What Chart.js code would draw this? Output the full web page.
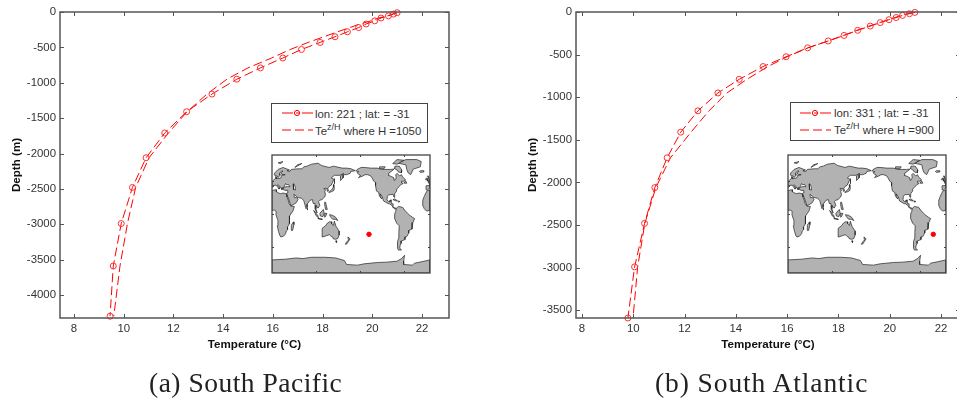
<!DOCTYPE html>
<html><head><meta charset="utf-8">
<script src="https://cdn.jsdelivr.net/npm/chart.js@4"></script>
<style>
html,body{margin:0;padding:0;background:#fff;width:957px;height:400px;overflow:hidden}
#all{position:absolute;left:0;top:0;width:957px;height:400px;overflow:hidden;filter:blur(.4px)}
canvas{position:absolute;display:block}
.lg{position:absolute;background:#fff;border:1px solid #444;box-sizing:border-box;font:11.4px "Liberation Sans",sans-serif;color:#333}
.lg svg{position:absolute;left:0;top:0}
.lg span{position:absolute;white-space:nowrap;line-height:14px}
.lg sup{font-size:9px;line-height:0;vertical-align:5px}
.cap{position:absolute;font:27.5px "Liberation Serif",serif;color:#222;white-space:nowrap;line-height:30px}
</style></head><body><div id="all">
<canvas id="c1" width="478" height="360" style="left:0;top:0"></canvas>
<canvas id="c2" width="460" height="360" style="left:500px;top:0"></canvas>

<div class="lg" style="left:271px;top:103px;width:157px;height:40px">
<svg width="157" height="40"><line x1="10" y1="9" x2="41" y2="9" stroke="#f00" stroke-dasharray="11 3 3 3 11"/><circle cx="25" cy="9" r="2.6" fill="none" stroke="#f00"/><line x1="10" y1="26" x2="41" y2="26" stroke="#f00" stroke-dasharray="9 4"/></svg>
<span style="left:43px;top:3px">lon: 221 ; lat: = -31</span><span style="left:43px;top:20px">Te<sup>z/H</sup> where H =1050</span></div>
<div class="lg" style="left:790px;top:102px;width:150px;height:39px">
<svg width="150" height="39"><line x1="9" y1="10" x2="40" y2="10" stroke="#f00" stroke-dasharray="11 3 3 3 11"/><circle cx="24" cy="10" r="2.6" fill="none" stroke="#f00"/><line x1="9" y1="27" x2="40" y2="27" stroke="#f00" stroke-dasharray="9 4"/></svg>
<span style="left:43px;top:3px">lon: 331 ; lat: = -31</span><span style="left:43px;top:20px">Te<sup>z/H</sup> where H =900</span></div>

<canvas id="m1" width="162" height="122" style="left:270px;top:153px"></canvas>
<canvas id="m2" width="162" height="122" style="left:786px;top:153px"></canvas>

<div class="cap" style="left:149px;top:368px;letter-spacing:.5px">(a) South Pacific</div>
<div class="cap" style="left:655px;top:368px;letter-spacing:.9px">(b) South Atlantic</div>
</div>
<script>
// ---- data ----
const tempTicks=[8,10,12,14,16,18,20,22];
const depthTicksA=[0,-500,-1000,-1500,-2000,-2500,-3000,-3500,-4000];
const depthTicksB=[0,-500,-1000,-1500,-2000,-2500,-3000,-3500];

const depthA=[-10,-30,-55,-85,-125,-170,-220,-280,-350,-430,-530,-650,-790,-950,-1160,-1410,-1710,-2060,-2480,-2990,-3590,-4300];
const obsA=[21,20.85,20.65,20.35,20.1,19.75,19.45,19.0,18.5,17.9,17.15,16.4,15.5,14.55,13.55,12.53,11.65,10.9,10.35,9.9,9.58,9.45];
const fitA=[20.95,20.8,20.6,20.25,19.95,19.5,19.1,18.6,18.05,17.42,16.7,15.95,15.0,14.15,13.35,12.55,11.8,11.02,10.48,10.15,9.85,9.6];

const depthB=[-5,-20,-40,-65,-90,-125,-165,-215,-275,-340,-420,-525,-640,-790,-950,-1160,-1410,-1710,-2060,-2480,-2990,-3590];
const obsB=[20.98,20.77,20.5,20.25,19.97,19.63,19.24,18.75,18.22,17.6,16.8,15.96,15.06,14.13,13.3,12.52,11.85,11.32,10.84,10.44,10.05,9.79];
const fitB=[20.9,20.7,20.45,20.2,19.95,19.6,19.2,18.72,18.2,17.6,16.82,16.0,15.25,14.43,13.65,12.95,12.25,11.45,10.88,10.45,10.17,9.99];

const mapLonTicks=[100,200,300];
const mapLatTicks=[-50,0,50];
const stationA=[221,-31];
const stationB=[331,-31];

const eurasiaAfrica=[[0,49.5],[4,52],[8,54],[8,57],[11,56],[10,54],[14,54],[20,55],[22,59],[30,60],[23,60],[21,63],[25,65.5],[22,65.7],[17,62],[18,59],[14,55.5],[12,58],[8,58],[5,60],[6,62.5],[14,68],[25,71],[40,67],[34,66],[40,64.5],[44,68],[60,69],[68,69],[73,72],[80,73],[90,76],[105,77.5],[113,74],[130,71],[140,73],[160,70],[170,70],[180,69],[190,66],[180,65],[178,62],[170,60],[163,60],[162,55],[156,51],[156,58],[163,62],[155,59],[142,59],[135,55],[141,53],[135,44],[130,42],[127,39],[129,35.5],[126,34.5],[125,39],[121,39],[118,38.5],[122,37],[120,34],[122,30],[120,26],[114,22],[109,21],[106,19],[109,13],[105,9],[100,13],[100,8],[103,1.5],[101,3],[98,8],[98,16],[94,16],[92,22],[87,21],[80,15],[80,10],[77.5,8],[73,19],[72,21],[67,24],[57,25.5],[56,27],[50,30],[48,30],[51,25],[56,25],[59.5,22.5],[55,17],[45,13],[43,13],[39,21],[35,28],[32.5,30],[34,26],[37,21],[39,16],[43,12],[51,11.5],[48,5],[40,-3],[39,-8],[40.5,-15],[35,-20],[35.5,-24],[32.5,-26],[31,-30],[26,-34],[20,-35],[18,-33],[15,-27],[12,-18],[13.5,-10],[9,-1],[9.5,4],[5,6],[0,5.5],[0,36],[10,37],[10,34],[15,32],[20,31],[25,32],[32,31],[35,32],[36,36],[30,36],[27,37],[26,40],[29,41],[35,42],[41,41.5],[38,45],[33,45],[31,46.5],[28,42],[26,40.5],[23,40],[23,37],[20,40],[14,45],[12.5,44],[18,40],[16,38],[12,42],[9,44],[4,43.5],[3,42],[0,40]];
const caspian=[[50,37],[54,37],[53,41],[51,45],[48,46],[48,42]];
const westAfrica=[[360,5.5],[352,4.5],[347,8],[343,14],[343.5,21],[347,27],[350.5,32],[354,35.8],[360,36]];
const iberia=[[360,40],[354,36.5],[351,37],[351,43],[358.5,43.5],[359,46],[355.5,48],[360,49.5]];
const britain=[[355,50],[360,51],[358,54],[356.5,58],[354,58],[357,55],[355,53]];
const ireland=[[350,52],[354,52],[354,55],[351,54.5]];
const iceland=[[336,65],[338,63.5],[345,64],[346,66],[338,66]];
const northAmerica=[[192,65.5],[198,64.5],[194,63],[198,60],[202,58.5],[197,55.5],[207,58],[212,60],[218,60],[225,58],[228,55],[232,50],[236,48],[236,43],[238,35],[243,33],[245,27],[250,23],[246,31],[251,27],[254,20],[264,16],[268,15.5],[273,13],[277,9],[280.5,7.5],[283,8.5],[280,9.5],[277,10],[276,15.5],[272,16],[272,21.5],[269,21],[269,18.5],[265,19],[262,22],[263,27],[266,29.5],[270,29.5],[276,30],[278,25.5],[280,27],[279,31],[284,35],[284,38],[290,42],[293,44.5],[296,45.5],[299,47],[295,47.5],[295,50],[300,50],[304,52.5],[298,56],[295,60],[291,58],[285,62],[282,60],[283,55],[280,51.5],[278,55],[273,57],[265,59],[266,62.5],[272,65],[278,68.5],[270,68],[262,68],[250,68],[240,70],[225,70],[210,71],[203,71],[194,68]];
const baffin=[[280,73],[290,73],[296,67],[295,63],[288,64],[285,67],[278,70]];
const victoria=[[245,72],[258,72],[255,69],[245,69]];
const ellesmere=[[275,77],[285,83],[300,82],[285,76]];
const newfoundland=[[301,47],[307,47],[304,51]];
const greenland=[[288,77.5],[305,83],[330,83],[340,80],[338,72],[322,68.5],[316,60],[310,63],[307,68],[305,75]];
const southAmerica=[[283,8.5],[288,11.5],[292,11],[298,10],[302,6],[309,1],[312,-1],[320,-5],[325,-7],[321,-13],[319,-18],[319,-23],[312,-25],[311.5,-29],[307,-34.5],[303,-35],[303,-39],[295,-41],[294,-45],[292,-48],[291,-52],[295,-55],[288,-55],[286,-52],[286,-42],[288.5,-37],[289,-28],[290,-18],[284,-14],[279,-6],[279,-3],[280,0],[282,4]];
const australia=[[114,-22],[122,-18],[126,-14],[131,-12],[136,-12],[136,-15],[140,-17.5],[142,-11],[146,-19],[153,-26],[153,-32],[150,-37.5],[145,-38.5],[140,-38],[138,-35],[135,-34.5],[131,-31.5],[124,-33],[116,-35],[115,-31],[114,-26]];
const tasmania=[[145,-41],[148,-41],[147.5,-43.5],[146,-43.5]];
const nzNorth=[[173,-35],[178,-38],[175,-41],[174,-39]];
const nzSouth=[[172,-41],[174,-42],[170,-46],[167,-46]];
const newGuinea=[[131,-1],[138,-2],[145,-5],[150,-10],[144,-8],[138,-8],[133,-4]];
const borneo=[[109,1],[117,7],[119,1],[116,-4],[110,-3]];
const sumatra=[[95,5.5],[104,-2],[106,-6],[101,-3]];
const java=[[105,-6.5],[114,-7.5],[114,-8.5],[106,-7.5]];
const sulawesi=[[120,1],[125,1],[122,-4],[120,-5]];
const philippines=[[120,18],[122,18],[124,12],[126,7],[122,7],[120,14]];
const japan=[[130,33],[136,34],[141,36],[142,40],[141,45],[140,41],[136,37],[131,34]];
const sakhalin=[[142,46],[143,54],[142,54]];
const sriLanka=[[80,9],[82,7],[80.5,6]];
const madagascar=[[49,-12],[50,-16],[47,-25],[44,-25],[44,-17]];
const cuba=[[275.5,22],[280,23],[286,20],[282,20]];
const hispaniola=[[288,20],[291.5,19],[288,18]];
const svalbard=[[14,78],[25,80],[20,77]];
const novayaZemlya=[[52,71],[68,77],[58,75]];
const antarctica=[[0,-70],[30,-69],[55,-67],[70,-68],[90,-66],[120,-66],[145,-67],[165,-71],[170,-77],[195,-78],[210,-76],[240,-74],[260,-73.5],[285,-72],[295,-68],[302,-63],[300,-72],[300,-77],[320,-78],[325,-75],[340,-73],[360,-70],[360,-90],[0,-90]];
const lands=[eurasiaAfrica,westAfrica,iberia,britain,ireland,iceland,northAmerica,baffin,victoria,ellesmere,newfoundland,greenland,southAmerica,australia,tasmania,nzNorth,nzSouth,newGuinea,borneo,sumatra,java,sulawesi,philippines,japan,sakhalin,sriLanka,madagascar,cuba,hispaniola,svalbard,novayaZemlya,antarctica];

// ---- helpers ----
const frame={id:'frame',afterDatasetsDraw(ch){
  const f=ch.options.plugins.frame,a=ch.chartArea,c=ch.ctx,X=ch.scales.x,Y=ch.scales.y;
  c.save();c.strokeStyle=f.color;c.lineWidth=f.ticks;c.beginPath();
  for(const v of f.xs){const p=Math.round(X.getPixelForValue(v))+.5;c.moveTo(p,a.top);c.lineTo(p,a.top+f.len);c.moveTo(p,a.bottom);c.lineTo(p,a.bottom-f.len);}
  for(const v of f.ys){const p=Math.round(Y.getPixelForValue(v))+.5;c.moveTo(a.left,p);c.lineTo(a.left+f.len,p);c.moveTo(a.right,p);c.lineTo(a.right-f.len,p);}
  c.stroke();c.lineWidth=f.width;c.strokeRect(a.left,a.top,a.right-a.left,a.bottom-a.top);c.restore();
}};
const RED='#ff0000';
function profile(id,depths,obs,fit,xmin,xmax,ymin,yTicks,padL,padR,yw){
  const pts=(t)=>t.map((v,i)=>({x:v,y:depths[i]}));
  const tickFont={family:'"Liberation Sans"',size:11.4};
  const titleFont={family:'"Liberation Sans"',size:11.6,weight:'bold'};
  new Chart(document.getElementById(id),{type:'line',
    data:{datasets:[
      {label:'obs',data:pts(obs),borderColor:RED,borderWidth:1,borderDash:[9,4],pointRadius:3,pointStyle:'circle',pointBorderColor:'#ff3030',pointBackgroundColor:'rgba(0,0,0,0)',pointBorderWidth:1,tension:0,clip:false},
      {label:'fit',data:pts(fit),borderColor:RED,borderWidth:1,borderDash:[9,4],pointRadius:0,tension:0,clip:false}]},
    options:{responsive:false,animation:false,devicePixelRatio:1,
      layout:{autoPadding:false,padding:{left:padL,right:padR,top:12,bottom:8}},
      plugins:{legend:{display:false},tooltip:{enabled:false},frame:{xs:tempTicks,ys:yTicks,len:4,color:'#555',width:1.5,ticks:1}},
      scales:{
        x:{type:'linear',min:xmin,max:xmax,grid:{display:false,drawTicks:false},border:{display:false},
          afterBuildTicks:s=>{s.ticks=tempTicks.map(v=>({value:v}));},
          afterFit:s=>{s.height=34;},
          ticks:{autoSkip:false,maxRotation:0,padding:4,color:'#333',font:tickFont,callback:v=>String(v)},
          title:{display:true,text:'Temperature (°C)',color:'#111',font:titleFont,padding:{top:0,bottom:0}}},
        y:{type:'linear',min:ymin,max:0,grid:{display:false,drawTicks:false},border:{display:false},
          afterBuildTicks:s=>{s.ticks=yTicks.map(v=>({value:v}));},
          afterFit:s=>{s.width=yw;},
          ticks:{autoSkip:false,padding:4,color:'#333',font:tickFont,callback:v=>String(v)},
          title:{display:true,text:'Depth (m)',color:'#111',font:titleFont,padding:{top:0,bottom:0}}}
      }},plugins:[frame]});
}
profile('c1',depthA,obsA,fitA,7.437,23.086,-4325,depthTicksA,10,29,50);
profile('c2',depthB,obsB,fitB,7.766,22.74,-3590,depthTicksB,26,0,50);

function world(id,st){
  const poly=a=>{const d=a.map(([x,y])=>({x,y}));d.push(d[0]);return {data:d,borderColor:'#222',borderWidth:.7,backgroundColor:'#b2b2b2',fill:'shape',pointRadius:0,tension:0};};
  const hole=poly(caspian);hole.backgroundColor='#fff';
  new Chart(document.getElementById(id),{type:'line',
    data:{datasets:[{data:[{x:st[0],y:st[1]}],pointRadius:2.2,pointBackgroundColor:RED,pointBorderColor:RED,showLine:false},hole,...lands.map(poly)]},
    options:{responsive:false,animation:false,devicePixelRatio:1,layout:{autoPadding:false,padding:{left:2,right:2,top:2,bottom:2}},
      plugins:{legend:{display:false},tooltip:{enabled:false},frame:{xs:mapLonTicks,ys:mapLatTicks,len:2,color:'#444',width:1.3,ticks:1}},
      scales:{x:{type:'linear',min:0,max:360,display:false,afterBuildTicks:s=>{s.ticks=mapLonTicks.map(v=>({value:v}));}},
              y:{type:'linear',min:-90,max:90,display:false,afterBuildTicks:s=>{s.ticks=mapLatTicks.map(v=>({value:v}));}}}},
    plugins:[frame]});
}
world('m1',stationA);
world('m2',stationB);
</script>
</body></html>
